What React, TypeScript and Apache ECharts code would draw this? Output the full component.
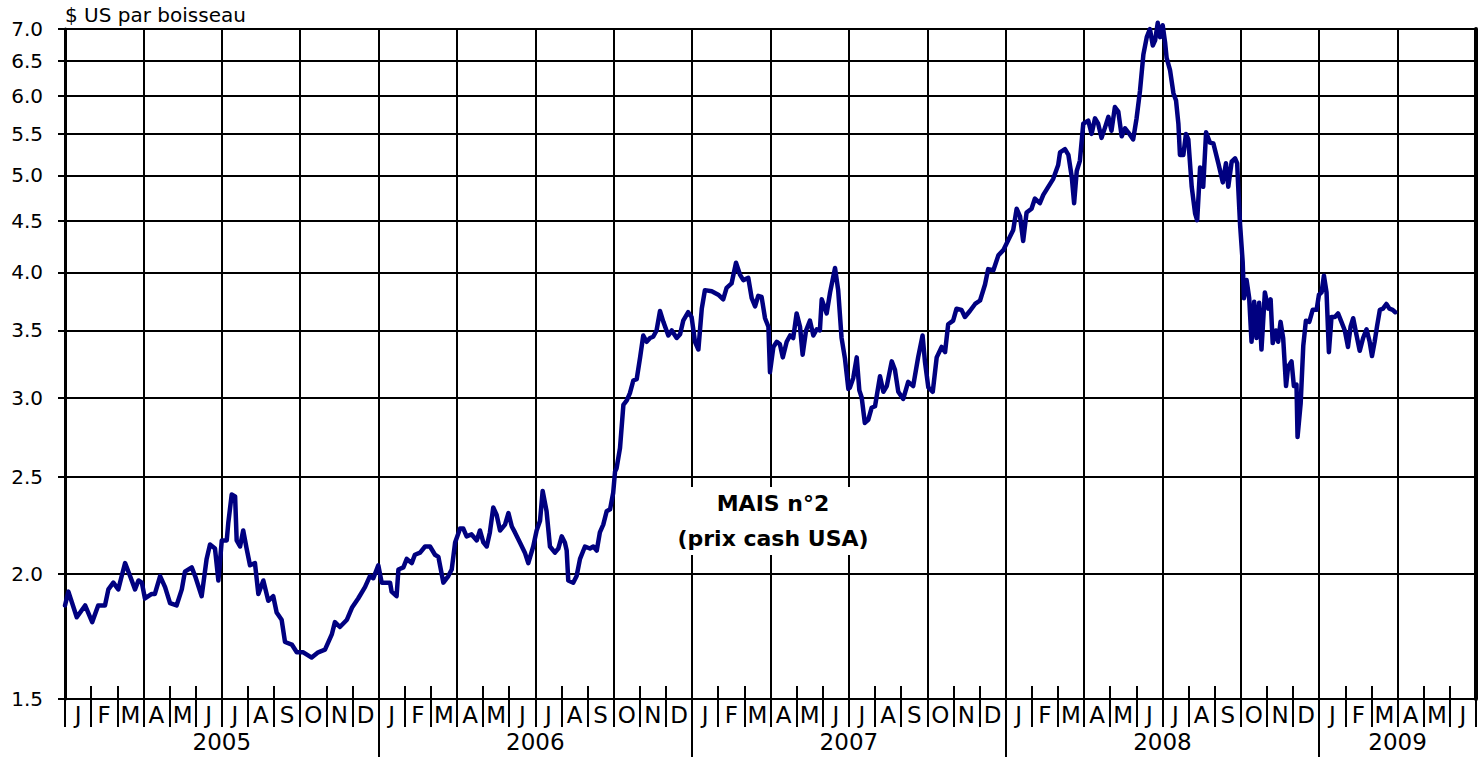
import React, { useEffect, useRef } from "react";
import * as echarts from "echarts";

const FONT = "'DejaVu Sans', 'Noto Sans', sans-serif";

// Axis definitions
const monthLetters = ["J", "F", "M", "A", "M", "J", "J", "A", "S", "O", "N", "D"];
const years = ["2005", "2006", "2007", "2008", "2009"];
const yearCenters = [6, 18, 30, 42, 51]; // months since Jan 2005
const yearBoundaries = [12, 24, 36, 48];
const totalMonths = 54; // Jan 2005 .. Jun 2009
const priceTicks = [1.5, 2.0, 2.5, 3.0, 3.5, 4.0, 4.5, 5.0, 5.5, 6.0, 6.5, 7.0];
const monthLabels = Array.from({ length: totalMonths }, (_, i) => monthLetters[i % 12]);

// Corn No.2 cash price, US$ per bushel : [months since 1 Jan 2005, price]
const corn2005: [number, number][] = [
  [0.0, 1.86], [0.13, 1.92], [0.45, 1.81], [0.77, 1.86], [1.04, 1.79], [1.27, 1.86], [1.53, 1.86],
  [1.66, 1.93], [1.85, 1.96], [2.04, 1.93], [2.17, 1.99], [2.3, 2.05], [2.49, 1.99], [2.68, 1.93],
  [2.81, 1.97], [2.94, 1.96], [3.06, 1.89], [3.32, 1.91], [3.44, 1.91], [3.64, 1.99], [3.83, 1.94],
  [4.02, 1.87], [4.27, 1.86], [4.47, 1.93], [4.59, 2.01], [4.85, 2.03], [4.98, 1.99], [5.23, 1.9],
  [5.42, 2.07], [5.55, 2.14], [5.74, 2.12], [5.87, 1.97], [6.0, 2.16], [6.19, 2.16], [6.25, 2.25],
  [6.38, 2.4], [6.51, 2.39], [6.57, 2.16], [6.7, 2.13], [6.82, 2.21], [6.95, 2.12], [7.08, 2.04],
  [7.27, 2.05], [7.4, 1.91], [7.59, 1.97], [7.78, 1.88], [7.97, 1.9], [8.1, 1.83], [8.29, 1.8],
  [8.42, 1.71], [8.68, 1.7], [8.87, 1.67], [9.12, 1.67], [9.44, 1.65], [9.69, 1.67], [9.95, 1.68],
  [10.21, 1.74], [10.33, 1.79], [10.52, 1.77], [10.79, 1.8], [10.98, 1.85], [11.22, 1.89],
  [11.48, 1.94], [11.67, 1.99], [11.8, 1.98], [11.99, 2.04],
];

const corn2006: [number, number][] = [
  [12.12, 1.96], [12.31, 1.96], [12.44, 1.96], [12.5, 1.92], [12.69, 1.9], [12.76, 2.02],
  [12.95, 2.03], [13.08, 2.07], [13.27, 2.05], [13.39, 2.09], [13.59, 2.1], [13.78, 2.13],
  [13.97, 2.13], [14.16, 2.09], [14.29, 2.08], [14.48, 1.96], [14.67, 1.99], [14.8, 2.02],
  [14.93, 2.15], [15.12, 2.22], [15.24, 2.22], [15.37, 2.18], [15.56, 2.19], [15.76, 2.16],
  [15.88, 2.21], [16.01, 2.15], [16.14, 2.13], [16.26, 2.2], [16.39, 2.33], [16.52, 2.29],
  [16.65, 2.21], [16.84, 2.24], [16.97, 2.3], [17.1, 2.23], [17.22, 2.2], [17.41, 2.15],
  [17.6, 2.1], [17.73, 2.05], [17.92, 2.13], [18.05, 2.21], [18.18, 2.26], [18.28, 2.42],
  [18.43, 2.31], [18.56, 2.13], [18.75, 2.1], [18.88, 2.12], [19.01, 2.18], [19.13, 2.15],
  [19.2, 2.11], [19.26, 1.97], [19.45, 1.96], [19.58, 1.99], [19.71, 2.07], [19.9, 2.13],
  [20.09, 2.12], [20.22, 2.13], [20.35, 2.11], [20.47, 2.2], [20.6, 2.24], [20.73, 2.31],
  [20.86, 2.32], [20.98, 2.41], [21.05, 2.53], [21.11, 2.55], [21.24, 2.67], [21.37, 2.95],
  [21.5, 2.98], [21.62, 3.03], [21.75, 3.12], [21.88, 3.13], [22.01, 3.29], [22.13, 3.46],
  [22.26, 3.41], [22.39, 3.44], [22.51, 3.45], [22.64, 3.5], [22.77, 3.66], [22.9, 3.57],
  [23.09, 3.46], [23.22, 3.5], [23.41, 3.44], [23.54, 3.47], [23.66, 3.58], [23.85, 3.65],
  [23.98, 3.61],
];

const corn2007: [number, number][] = [
  [24.11, 3.41], [24.24, 3.35], [24.37, 3.68], [24.49, 3.84], [24.75, 3.83], [25.0, 3.8],
  [25.19, 3.76], [25.32, 3.86], [25.51, 3.9], [25.68, 4.09], [25.83, 3.98], [25.96, 3.93],
  [26.15, 3.95], [26.28, 3.77], [26.41, 3.7], [26.53, 3.79], [26.66, 3.78], [26.79, 3.6],
  [26.92, 3.53], [26.98, 3.18], [27.11, 3.37], [27.24, 3.41], [27.36, 3.39], [27.47, 3.29],
  [27.62, 3.41], [27.75, 3.46], [27.87, 3.44], [28.0, 3.64], [28.13, 3.53], [28.23, 3.31],
  [28.36, 3.5], [28.51, 3.58], [28.64, 3.46], [28.77, 3.51], [28.89, 3.5], [28.96, 3.76],
  [29.15, 3.64], [29.28, 3.82], [29.47, 4.04], [29.59, 3.84], [29.72, 3.44], [29.85, 3.28],
  [29.98, 3.06], [30.04, 3.07], [30.17, 3.14], [30.3, 3.29], [30.4, 3.05], [30.49, 3.0],
  [30.61, 2.83], [30.74, 2.85], [30.87, 2.93], [31.0, 2.94], [31.19, 3.15], [31.32, 3.04],
  [31.45, 3.08], [31.64, 3.26], [31.76, 3.2], [31.89, 3.04], [32.08, 2.99], [32.27, 3.11],
  [32.46, 3.08], [32.65, 3.29], [32.82, 3.46], [32.91, 3.26], [33.04, 3.07], [33.21, 3.04],
  [33.36, 3.29], [33.55, 3.37], [33.68, 3.33], [33.8, 3.55], [33.99, 3.58], [34.12, 3.68],
  [34.31, 3.67], [34.44, 3.61], [34.63, 3.66], [34.83, 3.72], [35.02, 3.75], [35.21, 3.89],
  [35.33, 4.03], [35.53, 4.02], [35.72, 4.16], [35.91, 4.21],
];

const corn2008: [number, number][] = [
  [36.1, 4.31], [36.29, 4.41], [36.42, 4.63], [36.55, 4.55], [36.67, 4.3], [36.8, 4.59],
  [36.99, 4.63], [37.12, 4.74], [37.31, 4.69], [37.44, 4.78], [37.63, 4.87], [37.82, 4.96],
  [38.01, 5.12], [38.08, 5.27], [38.27, 5.31], [38.4, 5.24], [38.53, 4.98], [38.62, 4.69],
  [38.72, 5.05], [38.84, 5.17], [38.97, 5.63], [39.16, 5.67], [39.29, 5.5], [39.42, 5.7],
  [39.54, 5.63], [39.67, 5.45], [39.8, 5.58], [39.93, 5.72], [40.05, 5.54], [40.18, 5.85],
  [40.31, 5.79], [40.44, 5.47], [40.57, 5.57], [40.69, 5.52], [40.88, 5.43], [41.01, 5.7],
  [41.14, 6.07], [41.27, 6.6], [41.4, 6.87], [41.52, 7.0], [41.63, 6.74], [41.72, 6.82],
  [41.82, 7.1], [41.91, 6.87], [42.01, 7.06], [42.1, 6.79], [42.16, 6.55], [42.29, 6.37],
  [42.42, 6.04], [42.52, 5.94], [42.61, 5.63], [42.67, 5.24], [42.8, 5.24], [42.9, 5.5],
  [42.99, 5.43], [43.12, 4.87], [43.25, 4.58], [43.33, 4.51], [43.44, 5.09], [43.56, 4.87],
  [43.67, 5.52], [43.82, 5.39], [43.95, 5.38], [44.14, 5.14], [44.31, 4.92], [44.43, 5.14],
  [44.52, 4.87], [44.65, 5.16], [44.78, 5.2], [44.86, 5.14], [44.9, 4.87], [44.97, 4.47],
  [45.07, 4.1], [45.12, 3.77], [45.22, 3.93], [45.32, 3.77], [45.41, 3.41], [45.51, 3.74],
  [45.6, 3.44], [45.7, 3.73], [45.79, 3.35], [45.92, 3.82], [46.05, 3.68], [46.14, 3.76],
  [46.22, 3.4], [46.34, 3.5], [46.43, 3.41], [46.52, 3.57], [46.62, 3.44], [46.73, 3.08],
  [46.81, 3.22], [46.94, 3.26], [47.03, 3.08], [47.13, 3.09], [47.17, 2.74], [47.29, 2.96],
  [47.39, 3.38], [47.49, 3.58], [47.62, 3.57], [47.75, 3.67], [47.9, 3.67], [47.99, 3.8],
];

const corn2009: [number, number][] = [
  [48.09, 3.82], [48.18, 3.97], [48.28, 3.82], [48.37, 3.33], [48.47, 3.61], [48.6, 3.61],
  [48.72, 3.64], [48.85, 3.57], [48.98, 3.5], [49.1, 3.37], [49.2, 3.53], [49.3, 3.6],
  [49.43, 3.46], [49.55, 3.34], [49.68, 3.44], [49.81, 3.51], [49.93, 3.41], [50.02, 3.3],
  [50.12, 3.41], [50.21, 3.53], [50.32, 3.67], [50.44, 3.68], [50.57, 3.72], [50.69, 3.68],
  [50.81, 3.67], [50.91, 3.65],
];

const titleLines = ["MAIS n°2", "(prix cash USA)"];
const yAxisName = "$ US par boisseau";

const allPoints = [...corn2005, ...corn2006, ...corn2007, ...corn2008, ...corn2009];

const black2 = { color: "#000", width: 2 };

const option: any = {
  animation: false,
  backgroundColor: "#fff",
  grid: { left: 65, right: 3, top: 29, bottom: 58, containLabel: false },
  xAxis: [
    {
      type: "value",
      min: 0,
      max: totalMonths,
      interval: 3,
      position: "bottom",
      axisLine: { show: true, onZero: false, lineStyle: black2 },
      axisTick: { show: false },
      axisLabel: { show: false },
      splitLine: { show: true, lineStyle: black2 },
    },
    {
      type: "category",
      data: monthLabels,
      boundaryGap: true,
      position: "bottom",
      axisLine: { show: false, onZero: false },
      axisTick: { show: true, interval: 0, length: 28, lineStyle: black2 },
      axisLabel: {
        show: true,
        interval: 0,
        fontSize: 23,
        color: "#000",
        fontFamily: FONT,
        margin: 4,
      },
      splitLine: { show: false },
    },
    {
      type: "value",
      min: 0,
      max: totalMonths,
      interval: 1,
      position: "bottom",
      axisLine: { show: false, onZero: false },
      axisTick: { show: true, inside: true, length: 13, lineStyle: black2 },
      axisLabel: { show: false },
      splitLine: { show: false },
    },
    {
      type: "value",
      min: 0,
      max: totalMonths,
      position: "bottom",
      axisLine: { show: false, onZero: false },
      axisTick: { show: true, customValues: yearBoundaries, length: 58, lineStyle: black2 },
      axisLabel: {
        show: true,
        customValues: yearCenters,
        formatter: (v: number) => {
          const i = yearCenters.indexOf(v);
          return i >= 0 ? years[i] : "";
        },
        fontSize: 23,
        color: "#000",
        fontFamily: FONT,
        margin: 31,
      },
      splitLine: { show: false },
    },
  ],
  yAxis: [
    {
      type: "log",
      logBase: 10,
      min: 1.5,
      max: 7,
      position: "left",
      axisLine: { show: true, onZero: false, lineStyle: { color: "#000", width: 3 } },
      axisTick: { show: true, customValues: priceTicks, length: 7, lineStyle: black2 },
      axisLabel: {
        show: true,
        customValues: priceTicks,
        formatter: (v: number) => Number(v).toFixed(1),
        fontSize: 20,
        color: "#000",
        fontFamily: FONT,
        margin: 22,
      },
      splitLine: { show: true, lineStyle: black2 },
      name: yAxisName,
      nameLocation: "end",
      nameGap: 4,
      nameTextStyle: {
        align: "left",
        verticalAlign: "bottom",
        fontSize: 20,
        color: "#000",
        fontFamily: FONT,
        padding: 0,
      },
    },
    {
      type: "value",
      position: "right",
      axisLine: { show: true, onZero: false, lineStyle: { color: "#000", width: 4 } },
      axisTick: { show: false },
      axisLabel: { show: false },
      splitLine: { show: false },
    },
  ],
  series: [
    {
      type: "line",
      xAxisIndex: 0,
      yAxisIndex: 0,
      data: allPoints,
      showSymbol: false,
      symbol: "none",
      clip: false,
      z: 5,
      lineStyle: { color: "#000080", width: 4.5, join: "round", cap: "round" },
    },
  ],
  graphic: [
    {
      type: "rect",
      z: 50,
      shape: { x: 666, y: 487, width: 214, height: 68 },
      style: { fill: "#fff" },
    },
    {
      type: "text",
      z: 51,
      x: 773,
      y: 521,
      style: {
        text: titleLines.join("\n"),
        fill: "#000",
        fontSize: 22,
        fontWeight: "bold",
        fontFamily: FONT,
        align: "center",
        verticalAlign: "middle",
        lineHeight: 35,
      },
    },
  ],
};

export default function App() {
  const ref = useRef<HTMLDivElement>(null);
  useEffect(() => {
    if (!ref.current) return;
    const chart = echarts.init(ref.current, null, { renderer: "svg" });
    chart.setOption(option);
    return () => chart.dispose();
  }, []);
  return (
    <div
      ref={ref}
      style={{ position: "fixed", left: 0, top: 0, width: 1479, height: 757, background: "#fff" }}
    />
  );
}
